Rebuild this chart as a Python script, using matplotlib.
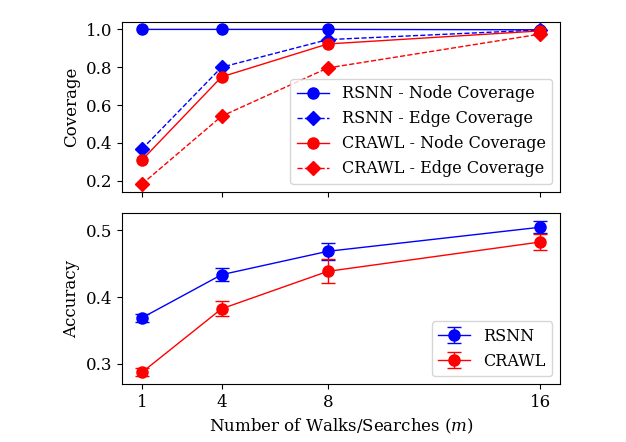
import matplotlib
matplotlib.use("Agg")
import matplotlib.pyplot as plt

plt.rcParams['font.family'] = ['DejaVu Serif']
plt.rcParams['mathtext.fontset'] = 'dejavuserif'

m_values = [1, 4, 8, 16]
x_ticks = [1, 4, 8, 16]

rsnn_node_cov = [1.0, 1.0, 1.0, 0.998]
rsnn_edge_cov = [0.367, 0.80, 0.946, 0.997]
crawl_node_cov = [0.309, 0.749, 0.923, 0.992]
crawl_edge_cov = [0.182, 0.541, 0.796, 0.975]

rsnn_acc = [0.369, 0.4335, 0.4685, 0.5045]
rsnn_acc_err = [0.006, 0.010, 0.013, 0.009]
crawl_acc = [0.2874, 0.3825, 0.4385, 0.4824]
crawl_acc_err = [0.006, 0.011, 0.018, 0.012]

fig = plt.figure(figsize=(6.26, 4.42), dpi=100)
ax1 = fig.add_axes([0.195, 0.566, 0.6995, 0.385])
ax2 = fig.add_axes([0.195, 0.131, 0.6995, 0.386], sharex=ax1)

lw = 1.0
ax1.plot(m_values, rsnn_node_cov, color='blue', marker='o', markersize=8, lw=lw, label='RSNN - Node Coverage')
ax1.plot(m_values, rsnn_edge_cov, color='blue', marker='D', markersize=7, lw=lw, ls='--', label='RSNN - Edge Coverage')
ax1.plot(m_values, crawl_node_cov, color='red', marker='o', markersize=8, lw=lw, label='CRAWL - Node Coverage')
ax1.plot(m_values, crawl_edge_cov, color='red', marker='D', markersize=7, lw=lw, ls='--', label='CRAWL - Edge Coverage')
ax1.set_ylabel('Coverage', fontsize=12)
ax1.tick_params(labelsize=12)
ax1.tick_params(axis='x', labelbottom=False)
ax1.set_yticks([0.2, 0.4, 0.6, 0.8, 1.0])
ax1.legend(loc='lower right', fontsize=11.5)

ax2.errorbar(m_values, rsnn_acc, yerr=rsnn_acc_err, color='blue', marker='o', markersize=8, lw=lw, capsize=5, label='RSNN')
ax2.errorbar(m_values, crawl_acc, yerr=crawl_acc_err, color='red', marker='o', markersize=8, lw=lw, capsize=5, label='CRAWL')
ax2.set_ylabel('Accuracy', fontsize=12)
ax2.set_xlabel('Number of Walks/Searches ($m$)', fontsize=12)
ax2.set_xticks(x_ticks)
ax2.set_xticklabels([str(v) for v in x_ticks])
ax2.set_yticks([0.3, 0.4, 0.5])
ax2.tick_params(labelsize=12)
ax2.legend(loc='lower right', fontsize=11.5)

fig.savefig('out.png', dpi=100)
